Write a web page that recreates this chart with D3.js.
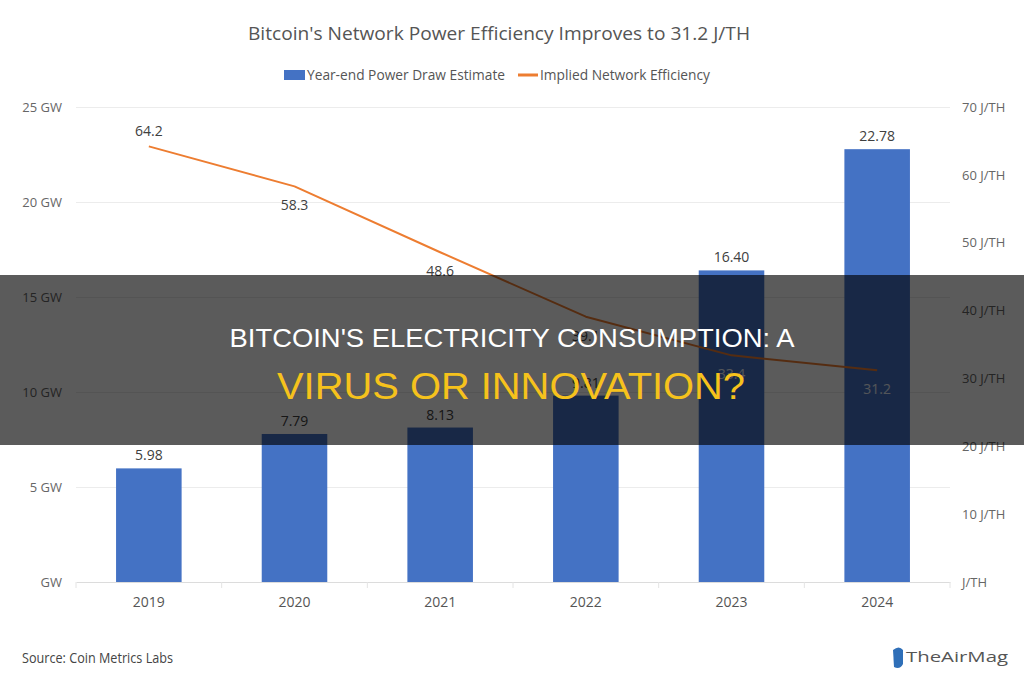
<!DOCTYPE html>
<html>
<head>
<meta charset="utf-8">
<script src="https://cdn.jsdelivr.net/npm/d3@7"></script>
<style>
  body { margin: 0; background: #fff; }
  svg { display: block; font-family: "Open Sans", "Noto Sans", sans-serif; }
</style>
</head>
<body>
<div id="chart"></div>
<script>
var years = ['2019', '2020', '2021', '2022', '2023', '2024'];
var powerDraw = [5.98, 7.79, 8.13, 9.81, 16.40, 22.78];
var efficiency = [64.2, 58.3, 48.6, 39.1, 33.4, 31.2];
var gwTicks = [0, 5, 10, 15, 20, 25];
var jthTicks = [0, 10, 20, 30, 40, 50, 60, 70];

var width = 1024,
  height = 690,
  plotLeft = 76,
  plotRight = 950,
  plotTop = 107,
  plotBottom = 582;

var svg = d3.select('#chart')
  .append('svg')
  .attr('width', width)
  .attr('height', height);

svg.append('rect')
  .attr('width', width)
  .attr('height', height)
  .attr('fill', '#fff');

var x = d3.scaleBand()
  .domain(years)
  .range([plotLeft, plotRight])
  .paddingInner(0.55)
  .paddingOuter(0.275);

var yL = d3.scaleLinear().domain([0, 25]).range([plotBottom, plotTop]);
var yR = d3.scaleLinear().domain([0, 70]).range([plotBottom, plotTop]);

var styleAxis = function(g, color, size) {
  g.attr('font-family', null);
  g.selectAll('text').attr('fill', color).attr('font-size', size);
};

// grid lines
svg.append('g')
  .attr('transform', 'translate(' + plotLeft + ',0)')
  .call(d3.axisLeft(yL).tickValues(gwTicks.slice(1)).tickSize(-(plotRight - plotLeft)).tickFormat(''))
  .call(function(g) {
    g.select('.domain').remove();
    g.selectAll('line').attr('stroke', '#ececec');
  });

// left axis
svg.append('g')
  .attr('transform', 'translate(' + plotLeft + ',0)')
  .call(d3.axisLeft(yL).tickValues(gwTicks).tickSize(0).tickPadding(14)
    .tickFormat(function(d) { return d ? d + ' GW' : 'GW'; }))
  .call(function(g) {
    g.select('.domain').remove();
    styleAxis(g, '#666', 13);
  });

// right axis
svg.append('g')
  .attr('transform', 'translate(' + plotRight + ',0)')
  .call(d3.axisRight(yR).tickValues(jthTicks).tickSize(0).tickPadding(12)
    .tickFormat(function(d) { return d ? d + ' J/TH' : 'J/TH'; }))
  .call(function(g) {
    g.select('.domain').remove();
    styleAxis(g, '#666', 13);
  });

// bottom axis
svg.append('g')
  .attr('transform', 'translate(0,' + plotBottom + ')')
  .call(d3.axisBottom(x).tickSize(0).tickPadding(15))
  .call(function(g) {
    g.select('.domain').attr('stroke', '#dcdcdc');
    styleAxis(g, '#555', 14);
  });

// small separators between categories
var step = x.step();
svg.append('g')
  .selectAll('line')
  .data(d3.range(years.length + 1))
  .enter()
  .append('line')
  .attr('x1', function(i) { return plotLeft + i * step; })
  .attr('x2', function(i) { return plotLeft + i * step; })
  .attr('y1', plotBottom)
  .attr('y2', plotBottom + 6)
  .attr('stroke', '#e4e4e4');

// bars
svg.append('g')
  .selectAll('rect')
  .data(years)
  .enter()
  .append('rect')
  .attr('x', function(d) { return x(d); })
  .attr('width', x.bandwidth())
  .attr('y', function(d, i) { return yL(powerDraw[i]); })
  .attr('height', function(d, i) { return plotBottom - yL(powerDraw[i]); })
  .attr('fill', '#4472c4');

svg.append('g')
  .selectAll('text')
  .data(years)
  .enter()
  .append('text')
  .attr('x', function(d) { return x(d) + x.bandwidth() / 2; })
  .attr('y', function(d, i) { return yL(powerDraw[i]) - 8; })
  .attr('text-anchor', 'middle')
  .attr('font-size', 14)
  .attr('fill', '#404040')
  .text(function(d, i) { return powerDraw[i].toFixed(2); });

// efficiency line
var line = d3.line()
  .x(function(d, i) { return x(years[i]) + x.bandwidth() / 2; })
  .y(function(d) { return yR(d); });

svg.append('path')
  .datum(efficiency)
  .attr('d', line)
  .attr('fill', 'none')
  .attr('stroke', '#ed7d31')
  .attr('stroke-width', 2)
  .attr('stroke-linejoin', 'round');

svg.append('g')
  .selectAll('text')
  .data(efficiency)
  .enter()
  .append('text')
  .attr('x', function(d, i) { return x(years[i]) + x.bandwidth() / 2; })
  .attr('y', function(d, i) { return i === 0 ? yR(d) - 10 : yR(d) + 24; })
  .attr('text-anchor', 'middle')
  .attr('font-size', 14)
  .attr('fill', function(d, i) {
    return yR(d) + 18 > yL(powerDraw[i]) ? '#e8eef8' : '#404040';
  })
  .text(function(d) { return d.toFixed(1); });

// title and legend
svg.append('text')
  .attr('x', 499)
  .attr('y', 40)
  .attr('text-anchor', 'middle')
  .attr('font-size', 18)
  .attr('fill', '#555')
  .attr('textLength', 502)
  .attr('lengthAdjust', 'spacingAndGlyphs')
  .text("Bitcoin's Network Power Efficiency Improves to 31.2 J/TH");

var legend = svg.append('g').attr('font-size', 14).attr('fill', '#555');
legend.append('rect')
  .attr('x', 284).attr('y', 70).attr('width', 21).attr('height', 10)
  .attr('fill', '#4472c4');
legend.append('text')
  .attr('x', 307).attr('y', 80)
  .attr('textLength', 198).attr('lengthAdjust', 'spacingAndGlyphs')
  .text('Year-end Power Draw Estimate');
legend.append('line')
  .attr('x1', 518).attr('x2', 538).attr('y1', 75).attr('y2', 75)
  .attr('stroke', '#ed7d31').attr('stroke-width', 3);
legend.append('text')
  .attr('x', 540).attr('y', 80)
  .attr('textLength', 170).attr('lengthAdjust', 'spacingAndGlyphs')
  .text('Implied Network Efficiency');

// source and logo
svg.append('text')
  .attr('x', 22).attr('y', 663)
  .attr('font-size', 14).attr('fill', '#444')
  .attr('textLength', 151).attr('lengthAdjust', 'spacingAndGlyphs')
  .text('Source: Coin Metrics Labs');

var logo = svg.append('g');
logo.append('path')
  .attr('d', 'M893,650 q6,-5 10,0 v14 q-3,6 -9,3 z')
  .attr('fill', '#2f6fb8');
logo.append('text')
  .attr('x', 906).attr('y', 662)
  .attr('font-size', 14).attr('fill', '#555')
  .attr('textLength', 102).attr('lengthAdjust', 'spacingAndGlyphs')
  .text('TheAirMag');

// banner overlay
svg.append('rect')
  .attr('x', 0).attr('y', 275)
  .attr('width', width).attr('height', 170)
  .attr('fill', '#000')
  .attr('opacity', 0.645);

svg.append('text')
  .attr('x', 512).attr('y', 347)
  .attr('text-anchor', 'middle')
  .attr('font-family', '"Liberation Sans", Arial, sans-serif')
  .attr('font-size', 26)
  .attr('fill', '#fff')
  .attr('textLength', 565)
  .attr('lengthAdjust', 'spacingAndGlyphs')
  .text("BITCOIN'S ELECTRICITY CONSUMPTION: A");

svg.append('text')
  .attr('x', 511).attr('y', 399)
  .attr('text-anchor', 'middle')
  .attr('font-family', '"Liberation Sans", Arial, sans-serif')
  .attr('font-size', 36)
  .attr('fill', '#f6c21c')
  .attr('textLength', 468)
  .attr('lengthAdjust', 'spacingAndGlyphs')
  .text('VIRUS OR INNOVATION?');
</script>
</body>
</html>
